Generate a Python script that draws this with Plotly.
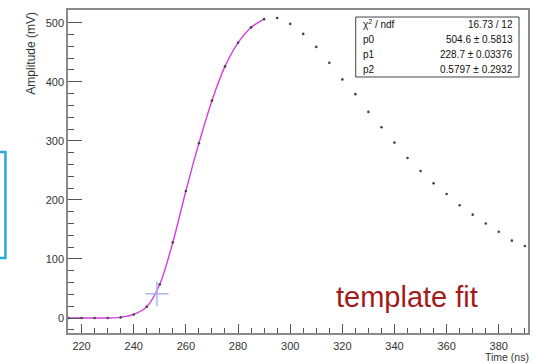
import plotly.graph_objects as go

# ---- data ----
time_ns = [215, 220, 225, 230, 235, 240, 245, 250, 255, 260, 265, 270, 275, 280, 285,
           290, 295, 300, 305, 310, 315, 320, 325, 330, 335, 340, 345, 350, 355, 360,
           365, 370, 375, 380, 385, 390]
amplitude_mv = [0, 0, 0, 0, 1, 6, 19, 57, 128, 215, 296, 368, 426, 466, 492,
                506, 508, 498, 481, 459, 432, 404, 379, 349, 323, 297, 271, 249, 228, 210,
                191, 175, 160, 146, 131, 122]
fit_end_ns = 290          # fit curve drawn over the rising edge up to here
marker_point = [248.9, 41.0]   # light-blue cross (x, y)
marker_err = [4.5, 21.0]       # half widths of the cross arms (x, y)

stat_labels = ["χ<sup>2</sup> / ndf", "p0", "p1", "p2"]
stat_values = ["16.73 / 12", "504.6 ± 0.5813", "228.7 ± 0.03376", "0.5797 ± 0.2932"]

x_range = [214.8, 391.2]
y_range = [-25.4, 521.5]

FONT = "Liberation Sans, Arial, Helvetica, sans-serif"

fit_x = [t for t in time_ns if t <= fit_end_ns]
fit_y = [a for t, a in zip(time_ns, amplitude_mv) if t <= fit_end_ns]

fig = go.Figure()

fig.add_trace(go.Scatter(
    x=fit_x, y=fit_y, mode="lines",
    line=dict(color="#d63ee0", width=1.4, shape="spline", smoothing=0.8),
    hoverinfo="skip", showlegend=False))

fig.add_trace(go.Scatter(
    x=[marker_point[0]], y=[marker_point[1]], mode="markers",
    marker=dict(size=1, color="rgba(0,0,0,0)"),
    error_x=dict(type="constant", value=marker_err[0], color="#a6b2ee", thickness=1.4, width=0),
    error_y=dict(type="constant", value=marker_err[1], color="#a6b2ee", thickness=1.4, width=0),
    showlegend=False))

fig.add_trace(go.Scatter(
    x=time_ns, y=amplitude_mv, mode="markers",
    marker=dict(size=2.6, color="#444444"),
    showlegend=False))

axis_common = dict(
    showgrid=False, zeroline=False, showline=True, linecolor="#8a8a8a", linewidth=1.5,
    mirror=True, ticks="inside", tickcolor="#555555", tickwidth=1,
    tickfont=dict(family=FONT, size=11, color="#333333"),
)

fig.update_xaxes(**axis_common, range=x_range, tick0=220, dtick=20, ticklen=9,
                 ticklabelstandoff=2,
                 minor=dict(dtick=5, ticklen=5, ticks="inside", tickcolor="#555555", tickwidth=1))
fig.update_yaxes(**axis_common, range=y_range, tick0=0, dtick=100, ticklen=14,
                 minor=dict(dtick=20, ticklen=6, ticks="inside", tickcolor="#555555", tickwidth=1))

shapes = [
    # stats box
    dict(type="rect", xref="paper", yref="paper", x0=0.6255, x1=0.9805, y0=0.7926, y1=0.9783,
         line=dict(color="#444444", width=1), fillcolor="white", layer="above"),
    # partial blue box at the left edge (slide element)
    dict(type="rect", xref="paper", yref="paper", x0=-0.20, x1=-0.136, y0=0.232, y1=0.560,
         line=dict(color="#2aa8e0", width=2.5), fillcolor="rgba(0,0,0,0)"),
]

annotations = []
row_px = [24.5, 39.5, 54.5, 69.5]
for lab, val, py in zip(stat_labels, stat_values, row_px):
    yp = (333 - py) / 323
    annotations.append(dict(text=lab, xref="paper", yref="paper", x=0.6364, y=yp,
                            xanchor="left", yanchor="middle", showarrow=False,
                            font=dict(family=FONT, size=10, color="#111111")))
    annotations.append(dict(text=val, xref="paper", yref="paper", x=0.9719, y=yp,
                            xanchor="right", yanchor="middle", showarrow=False,
                            font=dict(family=FONT, size=10, color="#111111")))

annotations += [
    dict(text="Amplitude (mV)", xref="paper", yref="paper", x=-0.0823, y=1.0,
         xanchor="center", yanchor="top", textangle=-90, showarrow=False,
         font=dict(family=FONT, size=12, color="#333333")),
    dict(text="Time (ns)", xref="paper", yref="paper", x=1.0065, y=-0.0745,
         xanchor="right", yanchor="middle", showarrow=False,
         font=dict(family=FONT, size=10.5, color="#333333")),
    dict(text="template fit", xref="paper", yref="paper", x=0.738, y=0.111,
         xanchor="center", yanchor="middle", showarrow=False,
         font=dict(family=FONT, size=29, color="#a31c1c")),
]

fig.update_layout(
    width=535, height=363,
    margin=dict(l=68, r=5, t=10, b=30),
    paper_bgcolor="white", plot_bgcolor="white",
    shapes=shapes, annotations=annotations,
    showlegend=False,
)

fig.write_html("out.html")
